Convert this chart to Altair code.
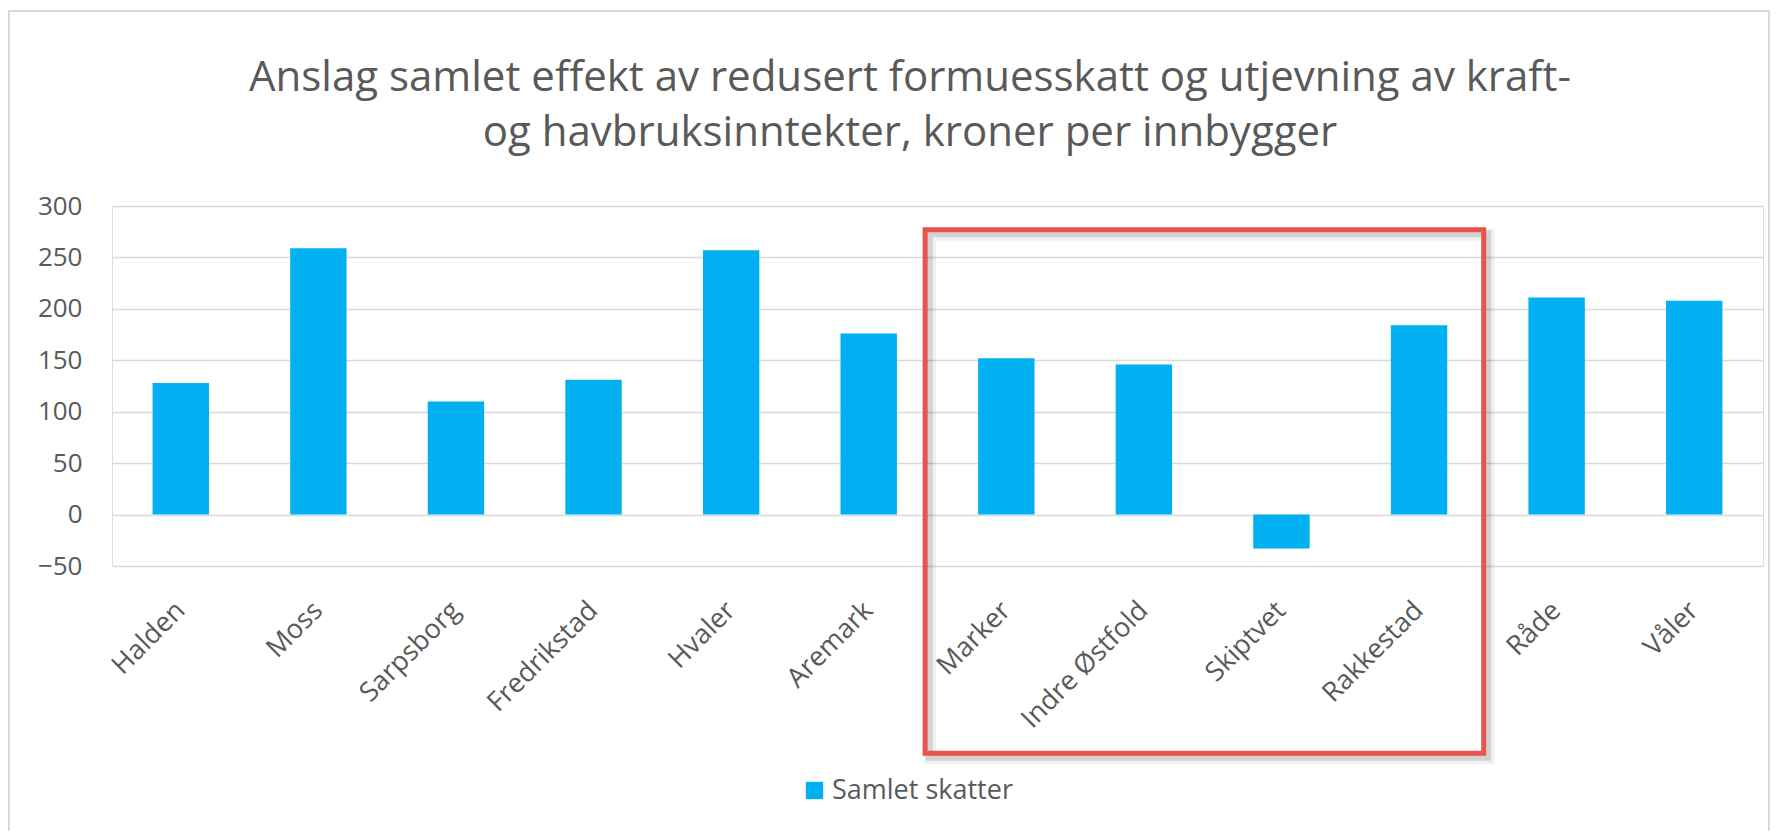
import altair as alt
import pandas as pd

# ---- data ----
kommuner = ["Halden", "Moss", "Sarpsborg", "Fredrikstad", "Hvaler", "Aremark",
            "Marker", "Indre Østfold", "Skiptvet", "Rakkestad", "Råde", "Våler"]
verdier = [128, 259, 110, 131, 257, 176, 152, 146, -33, 184, 211, 208]
serie = "Samlet skatter"
y_ticks = [-50, 0, 50, 100, 150, 200, 250, 300]
tittel = ["Anslag samlet effekt av redusert formuesskatt og utjevning av kraft-",
          "og havbruksinntekter, kroner per innbygger"]
# highlight box around Marker..Rakkestad (category-index units, value units)
boks_x = [5.91, 9.97]
boks_y = [277, -232]

# ---- style ----
W, H = 1651, 360
FONT = "Open Sans"
TXT = "#595959"
BAR = "#00B0F0"
RED = "#E8534D"
GRID = "#D9D9D9"

df = pd.DataFrame({"kommune": kommuner, "verdi": verdier, "serie": [serie] * len(kommuner)})
boks = pd.DataFrame({"x1": [boks_x[0]], "x2": [boks_x[1]], "y1": [boks_y[0]], "y2": [boks_y[1]]})
one = pd.DataFrame({"a": [0]})

frame = alt.Chart(one).mark_rect(fill=None, stroke=GRID, strokeWidth=2).encode(
    x=alt.value(-103), x2=alt.value(1657), y=alt.value(-195), y2=alt.value(700)
)

def title_line(i, ypix):
    return alt.Chart(pd.DataFrame({"t": [tittel[i]]})).mark_text(
        font=FONT, fontSize=42, color=TXT, align="center", baseline="middle"
    ).encode(text="t:N", x=alt.value(798), y=alt.value(ypix))

t1 = title_line(0, -128)
t2 = title_line(1, -73)

bars = alt.Chart(df).mark_bar().encode(
    x=alt.X("kommune:N", sort=kommuner,
            scale=alt.Scale(paddingInner=0.59, paddingOuter=0.295),
            axis=alt.Axis(title=None, labelAngle=315, labelAlign="right",
                          labelBaseline="middle", labelPadding=40, ticks=False,
                          domain=False, labelFontSize=27, labelColor=TXT,
                          labelFont=FONT)),
    y=alt.Y("verdi:Q", scale=alt.Scale(domain=[-50, 300], nice=False, zero=False),
            axis=alt.Axis(values=y_ticks, title=None, domain=False, ticks=False,
                          labelPadding=30, gridColor=GRID, gridWidth=1.5,
                          labelFontSize=26, labelColor=TXT, labelFont=FONT)),
    color=alt.Color("serie:N", scale=alt.Scale(range=[BAR]),
                    legend=alt.Legend(title=None, orient="none", legendX=689,
                                      legendY=571, symbolType="square",
                                      symbolSize=300, symbolStrokeWidth=0,
                                      labelFontSize=27, labelColor=TXT,
                                      labelFont=FONT, labelLimit=500, padding=0)),
)

def box_layer(**kw):
    return alt.Chart(boks).mark_rect(fill=None, **kw).encode(
        x=alt.X("x1:Q", scale=alt.Scale(domain=[0, 12], nice=False, zero=False), axis=None),
        x2="x2:Q",
        y=alt.Y("y1:Q", axis=None),
        y2="y2:Q",
    )

shadow2 = box_layer(stroke="#000000", strokeOpacity=0.06, strokeWidth=12,
                    xOffset=5, x2Offset=5, yOffset=5, y2Offset=5)
shadow1 = box_layer(stroke="#000000", strokeOpacity=0.12, strokeWidth=7,
                    xOffset=4, x2Offset=4, yOffset=4, y2Offset=4)
redbox = box_layer(stroke=RED, strokeWidth=5)

chart = alt.layer(frame, t1, t2, bars, shadow2, shadow1, redbox).resolve_scale(
    x="independent"
).resolve_axis(x="independent", y="independent").properties(
    width=W, height=H,
    autosize=alt.AutoSizeParams(type="none"),
    padding={"left": 104, "top": 198, "right": 9, "bottom": 265},
).configure_view(stroke=None).configure(background="white")

chart.save("out.html", embed_options={"renderer": "svg", "actions": False})
